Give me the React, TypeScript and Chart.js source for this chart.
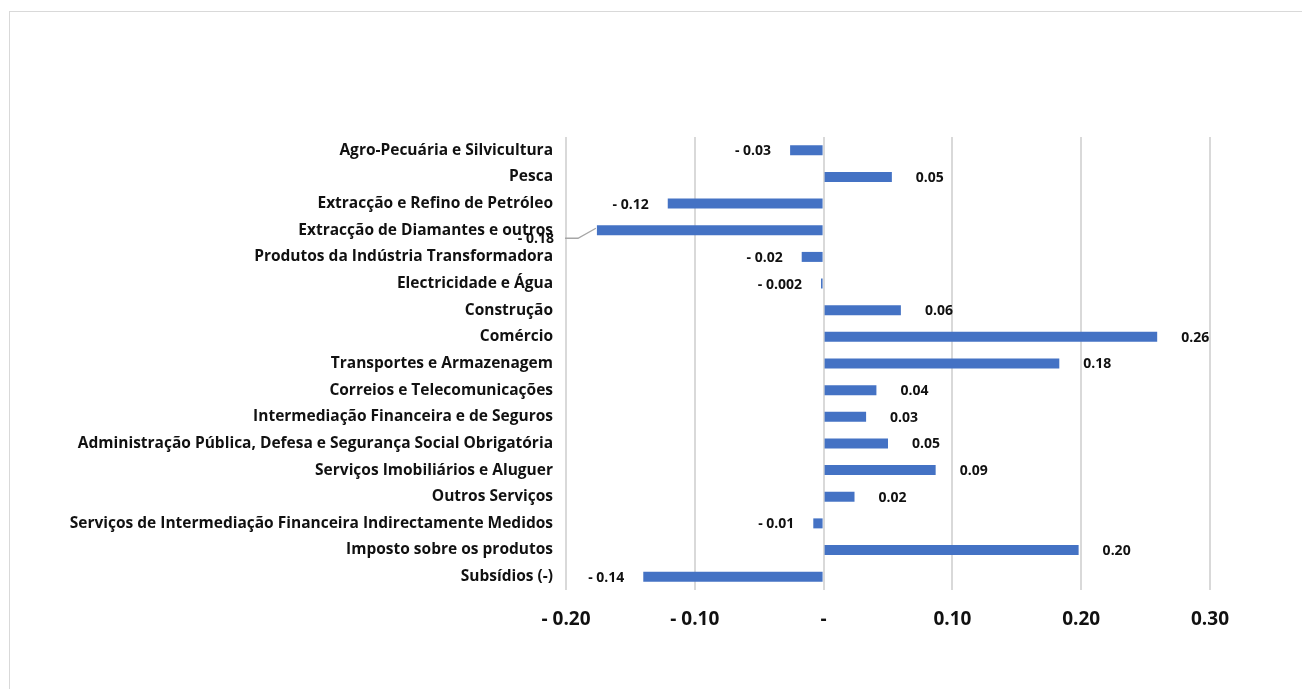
import React, { useEffect, useRef } from "react";
import { Chart, registerables } from "chart.js";

Chart.register(...registerables);

const categories = [
  "Agro-Pecuária e Silvicultura",
  "Pesca",
  "Extracção e Refino de Petróleo",
  "Extracção de Diamantes e outros",
  "Produtos da Indústria Transformadora",
  "Electricidade e Água",
  "Construção",
  "Comércio",
  "Transportes e Armazenagem",
  "Correios e Telecomunicações",
  "Intermediação Financeira e de Seguros",
  "Administração Pública, Defesa e Segurança Social Obrigatória",
  "Serviços Imobiliários e Aluguer",
  "Outros Serviços",
  "Serviços de Intermediação Financeira Indirectamente Medidos",
  "Imposto sobre os produtos",
  "Subsídios (-)",
];

const values = [
  -0.026, 0.053, -0.121, -0.176, -0.017, -0.002, 0.06, 0.259, 0.183, 0.041,
  0.033, 0.05, 0.087, 0.024, -0.008, 0.198, -0.14,
];

const xTickLabels = ["- 0.20", "- 0.10", "-", "0.10", "0.20", "0.30"];

const FONT = "'Open Sans', 'DejaVu Sans', sans-serif";
const BAR_COLOR = "#4472C4";

function fmt(v: number): string {
  const a = Math.abs(v);
  const s = a < 0.005 ? a.toFixed(3) : a.toFixed(2);
  return v < 0 ? "- " + s : s;
}

const labelPlugin = {
  id: "valueLabels",
  afterDatasetsDraw(chart: any) {
    const ctx = chart.ctx;
    const meta = chart.getDatasetMeta(0);
    ctx.save();
    ctx.font = `bold 14px ${FONT}`;
    ctx.fillStyle = "#111";
    ctx.textBaseline = "middle";
    meta.data.forEach((bar: any, i: number) => {
      const v = values[i];
      const text = fmt(v);
      if (i === 3) {
        // label pushed onto the category text with a leader line
        const ly = bar.y + 8;
        ctx.strokeStyle = "#a6a6a6";
        ctx.lineWidth = 1.3;
        ctx.beginPath();
        ctx.moveTo(chart.chartArea.left - 1, ly);
        ctx.lineTo(chart.chartArea.left + 12, ly);
        ctx.lineTo(bar.x - 1, bar.y - 2);
        ctx.stroke();
        ctx.textAlign = "right";
        ctx.fillText(text, chart.chartArea.left - 12, ly + 1);
        return;
      }
      if (v >= 0) {
        ctx.textAlign = "left";
        ctx.fillText(text, bar.x + 24, bar.y + 1);
      } else {
        ctx.textAlign = "right";
        ctx.fillText(text, bar.x - 19, bar.y + 1);
      }
    });
    ctx.restore();
  },
};

export default function App() {
  const ref = useRef<HTMLCanvasElement | null>(null);

  useEffect(() => {
    if (!ref.current) return;
    const chart = new Chart(ref.current, {
      type: "bar",
      data: {
        labels: categories,
        datasets: [
          {
            data: values,
            backgroundColor: BAR_COLOR,
            borderWidth: 0,
            categoryPercentage: 0.75,
            barPercentage: 0.5,
          },
        ],
      },
      options: {
        indexAxis: "y",
        responsive: false,
        animation: false,
        layout: { padding: { top: 137, right: 92, left: 0, bottom: 0 } },
        plugins: {
          legend: { display: false },
          tooltip: { enabled: false },
          title: { display: false },
        },
        scales: {
          x: {
            min: -0.2,
            max: 0.3,
            afterFit(scale: any) {
              scale.height = 99;
            },
            afterBuildTicks(scale: any) {
              scale.ticks = [-0.2, -0.1, 0, 0.1, 0.2, 0.3].map((v) => ({ value: v }));
            },
            grid: {
              color: "#d9d9d9",
              lineWidth: 2,
              drawTicks: false,
            },
            border: { display: false },
            ticks: {
              padding: 18,
              color: "#111",
              font: { family: FONT, size: 19, weight: "bold" },
              callback: (_v: any, i: number) => xTickLabels[i],
            },
          },
          y: {
            afterFit(scale: any) {
              scale.width = 566;
            },
            grid: { display: false, drawTicks: false },
            border: { display: false },
            ticks: {
              padding: 13,
              color: "#111",
              font: { family: FONT, size: 15.5, weight: "bold" },
              autoSkip: false,
            },
          },
        },
      },
      plugins: [labelPlugin],
    } as any);
    return () => chart.destroy();
  }, []);

  return (
    <div
      style={{
        position: "fixed",
        left: 0,
        top: 0,
        width: 1302,
        height: 689,
        background: "#fff",
        overflow: "hidden",
      }}
    >
      <div
        style={{
          position: "absolute",
          left: 9,
          top: 11,
          width: 1310,
          height: 700,
          border: "1px solid #d9d9d9",
          boxSizing: "border-box",
        }}
      />
      <canvas
        ref={ref}
        width={1302}
        height={689}
        style={{ position: "absolute", left: 0, top: 0, display: "block" }}
      />
    </div>
  );
}
